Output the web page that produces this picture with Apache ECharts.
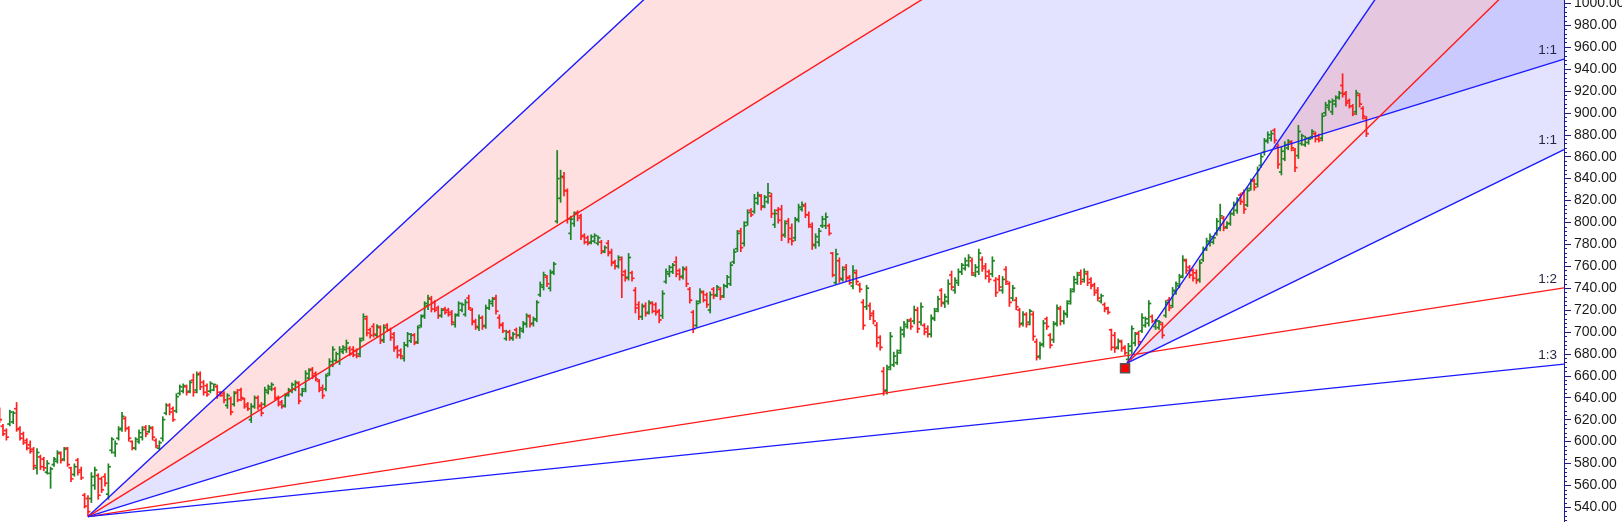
<!DOCTYPE html>
<html><head><meta charset="utf-8">
<script src="https://cdn.jsdelivr.net/npm/echarts@6/dist/echarts.min.js"></script>
<style>html,body{margin:0;padding:0;background:#fff;overflow:hidden}#c{width:1622px;height:522px}</style>
</head><body><div id="c"></div>
<script>
// ---- OHLC data (bar index 0..402) ----
const OPEN = [
628,614,610,616,618,630,612,607,601,597, 593,576,586,584,572,571,579,582,589,584,
594,576,570,583,574,551,548,548,560,569, 566,568,552,592,590,603,612,621,612,600,
594,600,604,613,609,612,601,594,603,626, 633,630,628,644,646,650,646,656,647,662,
654,651,646,647,650,645,644,633,639,634, 645,647,639,634,620,632,640,633,634,645,
648,648,640,636,633,643,646,648,653,643, 648,658,666,662,655,649,648,662,670,674,
673,682,684,685,684,683,680,694,712,702, 705,697,704,693,706,702,698,686,683,676,
688,692,697,691,706,715,724,730,727,722, 715,721,720,718,707,716,720,
716,731,720,710,704,713,706,722,726,731, 713,707,694,700,694,702,697,701,707,714,
708,711,734,741,750,740,755,801,822,841, 829,790,799,809,806,788,786,782,783,781,
782,773,781,773,764,760,766,755,750,754, 738,725,714,724,718,726,725,719,715,746,
753,755,764,756,751,757,739,718,
706,728,736,734,720,739,734,739,733,742, 744,764,776,792,781,800,811,810,818,824,
815,819,824,798,811,812,789,801,795,786, 803,812,815,807,796,779,782,797,797,797,
772,745,765,748,759,750,742,754,743,727, 723,724,717,706,695,664,647,668,670,672,
683,698,705,711,710,720,709,
706,703,698,712,721,738,726,728,752,738, 745,755,758,761,765,752,755,766,760,755,
753,747,748,738,757,744,731,729,720,708, 716,709,716,691,678,689,712,697,693,708,
721,710,716,728,739,745,754,748,753,748, 743,738,728,725,722,
702,697,686,691,686,675,683,690,699,701, 706,708,714,705,704,707,715,729,724,737,
742,751,765,759,756,754,748,766,776,781, 782,790,795,804,796,799,808,811,825,827,
816,831,838,835,852,864,875,877,884,869, 846,858,868,873,866,861,872,871,873,878,
881,879,877,900,905,901,908,914,925,918, 911,906,901,916,904,895
];
const HIGH = [
631,616,612,629,628,636,614,609,603,601, 595,594,588,586,583,577,586,592,591,595,
595,577,580,585,577,553,551,572,577,571, 568,571,580,604,601,614,627,623,614,601,
604,611,614,615,615,614,603,601,623,635, 635,632,644,652,653,652,656,662,664,664,
656,653,655,653,652,646,646,644,641,646, 648,649,640,636,635,642,642,636,650,652,
654,650,642,638,644,649,654,656,655,649, 665,667,668,664,657,652,662,676,687,682,
687,688,693,687,687,685,695,717,715,704, 708,707,706,707,708,704,700,688,685,691,
700,699,699,706,716,728,734,733,729,724, 722,723,722,720,717,728,727,
730,734,722,712,716,715,725,730,732,734, 716,709,702,702,700,704,705,710,717,716,
714,729,746,755,752,757,764,866,848,846, 831,806,810,811,808,790,788,789,790,788,
784,779,784,776,766,770,769,757,772,756, 741,728,726,727,729,728,727,721,738,758,
761,763,769,758,760,760,741,720,
729,740,738,736,737,741,743,741,744,752, 764,776,793,795,801,812,813,826,828,826,
825,836,827,812,814,816,802,804,799,805, 817,819,818,810,800,790,795,806,809,799,
773,776,768,760,762,752,761,757,745,730, 743,727,720,709,697,668,670,700,682,684,
705,710,712,713,724,723,727,
708,706,716,722,733,740,735,748,756,750, 758,763,768,771,768,762,776,769,763,757,
769,750,752,751,760,746,743,732,722,719, 718,721,719,694,691,711,714,699,710,725,
724,720,729,740,751,755,757,758,756,750, 745,741,735,727,723,
703,700,694,693,688,690,706,700,701,717, 714,729,716,712,711,709,729,732,741,746,
753,770,767,761,758,757,766,778,786,790, 788,804,817,806,801,810,819,823,827,830,
832,840,840,851,863,877,883,884,886,872, 869,874,876,875,868,889,881,879,878,885,
883,881,900,910,912,913,916,920,936,920, 913,908,921,918,906,897
];
const LOW = [
617,605,601,614,616,609,601,597,592,589, 574,570,574,573,570,557,577,580,580,582,
577,563,568,569,565,539,531.5,544,556,547, 553,559,547,589,586,601,609,609,600,592,
592,598,601,604,608,601,594,592,600,624, 624,618,626,642,644,642,644,641,644,647,
642,641,644,646,639,641,635,630,624,632, 636,637,630,628,617,630,629,623,632,643,
646,638,632,630,631,641,644,646,634,641, 645,656,657,655,645,639,646,660,668,672,
670,680,681,678,677,676,677,692,696,694, 695,695,689,690,700,692,682,676,675,673,
686,690,688,689,704,712,720,718,718,712, 713,716,714,706,704,714,718,
714,720,706,702,701,702,703,720,723,716, 703,699,692,692,692,694,694,699,704,704,
705,709,732,738,741,737,752,799,818,824, 799,784,796,801,784,780,779,780,781,779,
771,772,769,760,757,758,731,746,747,746, 717,711,711,714,716,717,715,708,712,744,
750,753,750,747,748,741,726,699,
704,726,727,722,717,730,732,729,731,740, 742,762,773,773,778,797,805,808,816,811,
813,817,804,795,799,783,786,781,779,783, 800,810,804,795,775,776,778,795,794,788,
750,743,745,746,746,743,739,743,736,702, 720,711,707,686,683,642,643,665,668,670,
680,695,703,702,707,699,706,
697,695,695,710,718,723,722,725,738,735, 742,752,756,759,751,750,752,755,748,745,
750,732,737,735,743,723,728,720,704,705, 704,706,692,674,675,686,702,685,690,705,
706,707,713,725,736,743,743,745,742,739, 733,728,726,718,716,
683,681,684,682,679,672,680,687,688,699, 704,705,708,702,702,694,713,719,722,734,
740,749,753,749,746,744,745,764,774,778, 780,788,792,792,794,797,806,808,816,808,
814,829,829,832,850,861,872,874,872,849, 843,856,866,865,846,858,870,869,871,876,
873,873,874,897,902,898,905,912,914,906, 904,897,898,905,894,878
];
const CLOSE = [
620,607,604,627,626,611,603,599,594,591, 578,590,577,576,580,575,584,590,583,593,
579,566,577,572,567,541,536,568,574,551, 556,562,577,602,598,611,623,612,603,594,
602,608,611,607,613,604,596,599,620,633, 627,620,641,650,651,645,654,645,661,650,
645,643,653,652,642,642,638,642,627,644, 638,640,632,630,632,640,632,626,647,650,
652,640,634,632,642,647,652,654,637,646, 662,665,660,657,647,642,660,673,684,680,
684,686,690,680,679,678,692,714,699,697, 698,705,692,704,702,695,685,679,678,688,
698,697,690,704,714,726,731,721,720,715, 720,718,716,709,715,726,725,
727,722,709,705,713,705,722,728,730,719, 706,701,700,695,698,697,703,708,715,707,
712,727,743,752,744,754,762,840,842,829, 803,803,808,804,787,782,781,787,788,786,
774,777,772,763,760,768,752,749,768,749, 722,714,723,717,727,719,718,711,735,755,
759,761,753,750,758,744,729,703,
726,737,729,725,734,733,741,732,742,750, 761,773,790,777,797,809,807,822,825,814,
823,827,808,808,802,788,799,785,783,802, 814,816,807,798,780,787,792,803,805,790,
752,771,749,757,749,745,756,746,739,706, 740,715,710,690,686,646,666,696,678,681,
702,707,710,705,720,703,723,
700,698,713,719,730,727,732,744,741,747, 755,761,765,768,754,759,772,758,751,748,
765,736,741,748,746,727,740,723,707,716, 707,719,696,677,688,708,705,688,707,722,
710,717,726,737,748,752,746,755,745,742, 736,731,733,721,718,
686,685,692,685,681,687,703,698,691,713, 712,726,710,710,709,697,727,722,738,744,
750,766,756,752,749,747,763,775,783,787, 786,801,806,795,799,808,816,820,819,812,
829,838,832,848,860,874,880,881,875,853, 865,871,874,868,850,883,879,877,876,883,
876,875,897,907,910,911,914,918,917,909, 906,899,918,908,897,881
];

// ---- Gann fans: pivot (bar index, price), price per bar for 1:1 ----
const FAN1_PIVOT = [26, 531.5];
const FAN1_UNIT = 0.962;
const FAN1_RATIOS = [3, 2, 1, 1/2, 1/3];
const FAN1_LABELS = ['', '', '1:1', '1:2', '1:3'];
const FAN2_PIVOT = [331.6, 671.5];
const FAN2_UNIT = 1.517;
const FAN2_RATIOS = [3, 2, 1];
const FAN2_LABELS = ['', '', '1:1'];

// ---- Axis ----
const Y_MIN = 520, Y_MAX = 1020, Y_STEP = 20;
const X_MIN = 0.1176, X_MAX = 460.12;

const BLUE = '#1a1aff', RED = '#ff1a1a';
const LINE_COLORS = [BLUE, RED, BLUE, RED, BLUE];
const FILL_COLORS = ['rgba(255,0,0,0.12)', 'rgba(0,0,255,0.11)'];
const UP = '#1f8424', DOWN = '#ff2020';

const N = Math.min(OPEN.length, HIGH.length, LOW.length, CLOSE.length);
const ohlc = [];
for (let i = 0; i < N; i++) ohlc.push([i, OPEN[i], HIGH[i], LOW[i], CLOSE[i]]);

function fanEnd(p, unit, r) { return [X_MAX, p[1] + r * unit * (X_MAX - p[0])]; }

const fans = [
  {p: FAN1_PIVOT, u: FAN1_UNIT, r: FAN1_RATIOS, l: FAN1_LABELS},
  {p: FAN2_PIVOT, u: FAN2_UNIT, r: FAN2_RATIOS, l: FAN2_LABELS}
];

const series = [];
// fills
const fills = [];
fans.forEach(f => {
  fills.push({p: f.p, a: fanEnd(f.p, f.u, f.r[0]), b: fanEnd(f.p, f.u, f.r[1]), c: FILL_COLORS[0]});
  fills.push({p: f.p, a: fanEnd(f.p, f.u, f.r[1]), b: fanEnd(f.p, f.u, f.r[2]), c: FILL_COLORS[1]});
});
series.push({
  type: 'custom', silent: true, z: 1, animation: false,
  data: fills.map((f, i) => [i]),
  encode: {x: -1, y: -1},
  renderItem: (params, api) => {
    const f = fills[params.dataIndex];
    return {type: 'polygon', shape: {points: [api.coord(f.p), api.coord(f.a), api.coord(f.b)]},
      style: {fill: f.c}};
  }
});
// OHLC bars
series.push({
  type: 'custom', silent: true, z: 2, animation: false,
  data: ohlc, encode: {x: 0, y: [1, 2, 3, 4]},
  renderItem: (params, api) => {
    const i = api.value(0), o = api.value(1), h = api.value(2), l = api.value(3), c = api.value(4);
    const x = api.coord([i, o])[0];
    const yo = api.coord([i, o])[1], yh = api.coord([i, h])[1], yl = api.coord([i, l])[1], yc = api.coord([i, c])[1];
    const col = c >= o ? UP : DOWN;
    const st = {stroke: col, lineWidth: 1.7};
    return {type: 'group', children: [
      {type: 'line', shape: {x1: x, y1: yh, x2: x, y2: yl}, style: st},
      {type: 'line', shape: {x1: x - 2.5, y1: yo, x2: x, y2: yo}, style: st},
      {type: 'line', shape: {x1: x, y1: yc, x2: x + 2.5, y2: yc}, style: st}
    ]};
  }
});
// fan lines
const labels = [];
fans.forEach(f => {
  f.r.forEach((r, k) => {
    const e = fanEnd(f.p, f.u, r);
    series.push({type: 'line', z: 3, silent: true, animation: false, showSymbol: false, symbol: 'none',
      data: [f.p, e], lineStyle: {color: LINE_COLORS[k], width: 1.4}});
    if (f.l[k]) labels.push({pt: e, t: f.l[k]});
  });
});
// fan labels
series.push({
  type: 'custom', silent: true, z: 6, animation: false,
  data: labels.map(l => l.pt), encode: {x: 0, y: 1},
  renderItem: (params, api) => {
    const pt = api.coord([api.value(0), api.value(1)]);
    return {type: 'text', style: {x: pt[0] - 7, y: pt[1] - 9, text: labels[params.dataIndex].t,
      fill: '#262640', font: '13.5px "Liberation Sans", Arial, sans-serif', align: 'right', verticalAlign: 'middle'}};
  }
});
// pivot marker
series.push({type: 'scatter', z: 7, silent: true, animation: false, data: [FAN2_PIVOT],
  symbol: 'rect', symbolSize: 9, symbolOffset: [-2, 5],
  itemStyle: {color: '#ff0000', borderColor: '#555', borderWidth: 1.5, opacity: 1}});

const chart = echarts.init(document.getElementById('c'), null, {renderer: 'canvas'});
chart.setOption({
  animation: false,
  backgroundColor: '#ffffff',
  grid: {left: 0, right: 58, top: -18.61, bottom: -7.21, containLabel: false, outerBoundsMode: 'none'},
  xAxis: {type: 'value', min: X_MIN, max: X_MAX, show: false},
  yAxis: {
    type: 'value', position: 'right', min: Y_MIN, max: Y_MAX, interval: Y_STEP,
    axisLine: {show: true, lineStyle: {color: '#1c1c8c', width: 1}},
    axisTick: {show: true, length: 7, lineStyle: {color: '#1c1c8c'}},
    minorTick: {show: true, splitNumber: 5, length: 3, lineStyle: {color: '#1c1c8c'}},
    splitLine: {show: false},
    axisLabel: {margin: 10, color: '#1a1a1a', fontSize: 14, fontFamily: '"Liberation Sans", Arial, sans-serif',
      formatter: v => v.toFixed(2)}
  },
  series: series
});
</script></body></html>
